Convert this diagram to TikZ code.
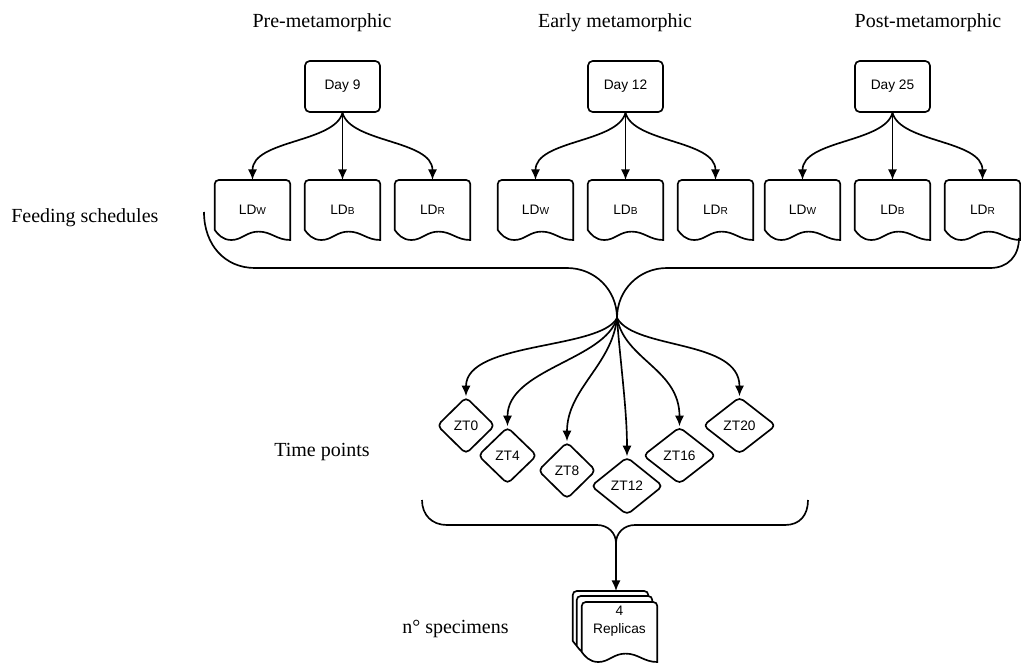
\documentclass[tikz,border=0pt]{standalone}
\usepackage{fontspec}
\setmainfont{Liberation Serif}
\newfontfamily\diagsans{Liberation Sans}
\usetikzlibrary{arrows.meta,calc,shapes.geometric}
\pgfdeclarelayer{bg}
\pgfsetlayers{bg,main}

% small-capital suffix used in the schedule names
\newcommand\sub[1]{{\fontsize{7.6pt}{8pt}\selectfont #1}}

% document outline (rounded top, wavy bottom) hung from a node's north edge
\newcommand\docpath[1]{%
  \begin{pgfonlayer}{bg}
  \path[docline] let \p1=(#1.north west), \p2=(#1.north east),
      \n1={\x2-\x1}, \n2={45pt} in
    ({\x1},{\y1-0.8333*\n2}) -- ({\x1},{\y1-3pt})
    arc[start angle=180,end angle=90,radius=3pt] -- ({\x2-3pt},{\y1})
    arc[start angle=90,end angle=0,radius=3pt] -- ({\x2},{\y1-\n2})
    .. controls ({\x1+0.82*\n1},{\y1-\n2}) and ({\x1+0.75*\n1},{\y1-0.86*\n2})
    .. ({\x1+0.58*\n1},{\y1-0.86*\n2})
    .. controls ({\x1+0.42*\n1},{\y1-0.86*\n2}) and ({\x1+0.36*\n1},{\y1-\n2})
    .. ({\x1+0.22*\n1},{\y1-\n2})
    .. controls ({\x1+0.1*\n1},{\y1-\n2}) and ({\x1+0.04*\n1},{\y1-0.9*\n2})
    .. ({\x1},{\y1-0.8333*\n2}) -- cycle;
  \end{pgfonlayer}}

\begin{document}
\begin{tikzpicture}[x=0.75pt,y=-0.75pt,
  line join=round,
  label/.style={font=\fontsize{15pt}{18pt}\selectfont, inner sep=0pt},
  daybox/.style={draw, line width=1.25pt, rounded corners=3.5pt,
    minimum width=56.25pt, minimum height=38.25pt, inner sep=0pt,
    font=\diagsans\fontsize{10.3pt}{12pt}\selectfont},
  doc/.style={anchor=north, minimum width=56.25pt, minimum height=45pt,
    inner sep=0pt, font=\diagsans\fontsize{10.3pt}{13pt}\selectfont, align=center},
  docline/.style={draw, fill=white, line width=1.25pt},
  zt/.style={draw, diamond, line width=1.25pt, rounded corners=3.5pt, inner sep=0pt,
    minimum height=42.75pt, font=\diagsans\fontsize{10.3pt}{12pt}\selectfont},
  arr/.style={line width=1.25pt, -{Latex[length=8pt,width=7pt]}},
  brace/.style={line width=1.25pt}]

\useasboundingbox (0,0) rectangle (1021,664);

% stage headings
\node[label, anchor=base] (tpre)  at (322,27) {Pre-metamorphic};
\node[label, anchor=base] (tearly) at (615,27) {Early metamorphic};
\node[label, anchor=base] (tpost) at (928,27) {Post-metamorphic};

% row captions
\node[label, anchor=base west] (cfeed) at (11,222) {Feeding schedules};
\node[label, anchor=base west] (ctime) at (274,456) {Time points};
\node[label, anchor=base west] (cspec) at (402,633) {n° specimens};

% sampling days
\node[daybox] (d9)  at (342.5,86.5) {Day 9};
\node[daybox] (d12) at (625.5,86.5) {Day 12};
\node[daybox] (d25) at (892.5,86.5) {Day 25};

% feeding schedules
\node[doc] (w1) at (252.5,180) {LD\sub{W}};
\node[doc] (b1) at (342.5,180) {LD\sub{B}};
\node[doc] (r1) at (432.5,180) {LD\sub{R}};
\node[doc] (w2) at (535.5,180) {LD\sub{W}};
\node[doc] (b2) at (625.5,180) {LD\sub{B}};
\node[doc] (r2) at (715.5,180) {LD\sub{R}};
\node[doc] (w3) at (802.5,180) {LD\sub{W}};
\node[doc] (b3) at (892.5,180) {LD\sub{B}};
\node[doc] (r3) at (982.5,180) {LD\sub{R}};
\foreach \nm in {w1,b1,r1,w2,b2,r2,w3,b3,r3} {\docpath{\nm}}

% day -> schedule
\foreach \d/\w/\b/\r in {d9/w1/b1/r1, d12/w2/b2/r2, d25/w3/b3/r3} {
  \draw[arr] (\d.south) .. controls +(-8,30) and +(0,-40) .. (\w.north);
  \draw[arr] (\d.south) -- (\b.north);
  \draw[arr] (\d.south) .. controls +(8,30) and +(0,-40) .. (\r.north);
}

% upper brace gathering all schedules
\coordinate (hub) at (617,318);
\draw[brace] (204,212) .. controls (204,245) and (225,268) .. (255,268)
  -- (567,268) .. controls (595,268) and (617,290) .. (hub)
  .. controls (617,290) and (639,268) .. (667,268)
  -- (990,268) .. controls (1008,268) and (1019,256) .. (1019,238);

% time points
\node[zt, minimum width=43.5pt]  (z0)  at (466,425.5) {ZT0};
\node[zt, minimum width=44.25pt] (z4)  at (507.5,455.5) {ZT4};
\node[zt, minimum width=43.5pt]  (z8)  at (567,470.5) {ZT8};
\node[zt, minimum width=54pt, minimum height=43.5pt] (z12) at (627,486) {ZT12};
\node[zt, minimum width=54.75pt] (z16) at (679.5,455.5) {ZT16};
\node[zt, minimum width=54.75pt] (z20) at (739.5,425.5) {ZT20};

\draw[arr] (hub) .. controls +(-17,32) and +(0,-55) .. (z0.north);
\draw[arr] (hub) .. controls +(-12,42) and +(0,-57) .. (z4.north);
\draw[arr] (hub) .. controls +(-5,47)  and +(0,-52) .. (z8.north);
\draw[arr] (hub) .. controls +(3,42)   and +(0,-47) .. (z12.north);
\draw[arr] (hub) .. controls +(8,42)   and +(0,-57) .. (z16.north);
\draw[arr] (hub) .. controls +(18,32)  and +(0,-57) .. (z20.north);

% lower brace gathering the time points
\coordinate (hub2) at (616,543);
\draw[brace] (422,500) .. controls (422,515) and (432,525) .. (447,525)
  -- (597,525) .. controls (608,525) and (616,533) .. (hub2)
  .. controls (616,533) and (624,525) .. (635,525)
  -- (785,525) .. controls (800,525) and (808,515) .. (808,500);

% stacked replicas
\node[doc] (s1) at (610.5,591) {};
\node[doc] (s2) at (614.5,596) {};
\node[doc, minimum height=28.5pt] (s3) at (619.5,602) {4\\Replicas};
\docpath{s1}\docpath{s2}\docpath{s3}

\draw[arr] (hub2) -- (hub2 |- s1.north);

\end{tikzpicture}
\end{document}
